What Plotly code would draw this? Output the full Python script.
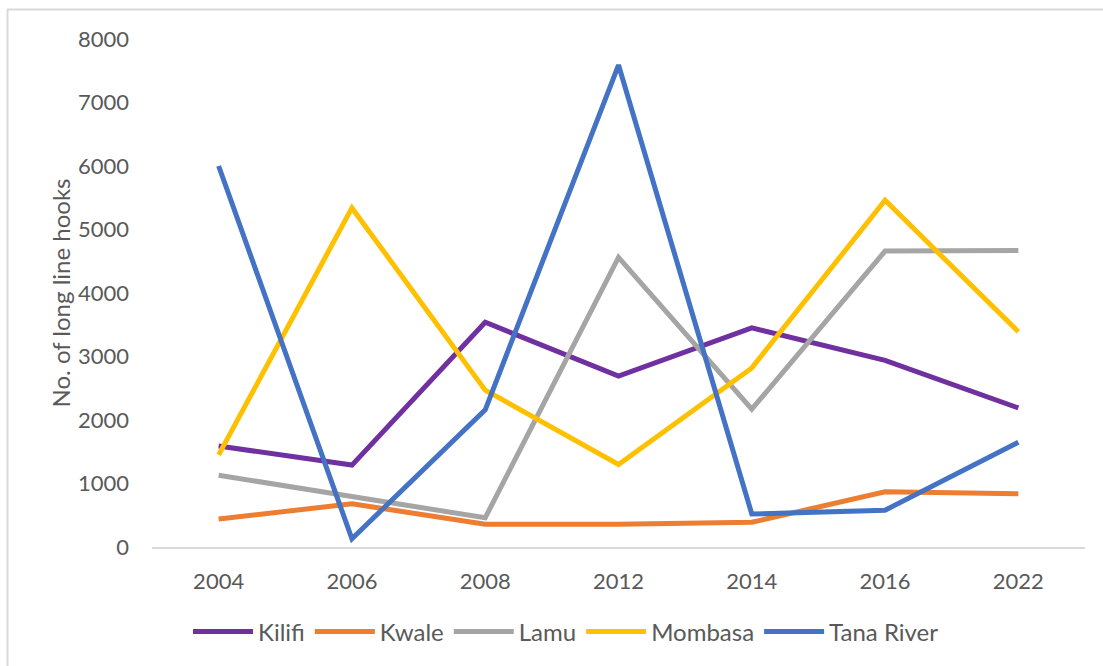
import plotly.graph_objects as go

years = ["2004", "2006", "2008", "2012", "2014", "2016", "2022"]
kilifi = [1590, 1290, 3540, 2690, 3450, 2940, 2190]
kwale = [440, 680, 360, 360, 390, 870, 840]
lamu = [1130, 800, 460, 4560, 2170, 4660, 4670]
mombasa = [1450, 5340, 2470, 1300, 2820, 5460, 3390]
tana_river = [6000, 130, 2160, 7590, 520, 580, 1650]

series = [
    ("Kilifi", kilifi, "#7030A0"),
    ("Kwale", kwale, "#ED7D31"),
    ("Lamu", lamu, "#A5A5A5"),
    ("Mombasa", mombasa, "#FFC000"),
    ("Tana River", tana_river, "#4472C4"),
]

FONT = "Lato, 'Open Sans', sans-serif"
TXT = "#595959"

fig = go.Figure()
for name, vals, col in series:
    fig.add_trace(go.Scatter(
        x=years, y=vals, name=name, mode="lines",
        line=dict(color=col, width=5),
    ))

W, H = 1103, 666
L, R, T, B = 152, 18, 39, 119
pw, ph = W - L - R, H - T - B

def px(xp):
    return (xp - L) / pw

def py(yp):
    return (H - B - yp) / ph

fig.update_layout(
    width=W, height=H,
    margin=dict(l=L, r=R, t=T, b=B),
    paper_bgcolor="white", plot_bgcolor="white",
    font=dict(family=FONT, color=TXT, size=21),
    showlegend=True,
    legend=dict(
        orientation="h", x=px(566), xanchor="center", y=py(632), yanchor="middle",
        font=dict(size=24, color=TXT, family=FONT), itemwidth=60,
        tracegroupgap=0, bgcolor="rgba(0,0,0,0)",
    ),
    xaxis=dict(
        type="category", range=[-0.5, 6.5], showgrid=False, showline=True, linecolor="#D9D9D9",
        linewidth=2, ticks="", tickfont=dict(size=22, color=TXT),
        ticklabelstandoff=14, zeroline=False,
    ),
    yaxis=dict(
        range=[0, 8000], dtick=1000, showgrid=False, showline=False,
        zeroline=False, ticks="", tickfont=dict(size=22, color=TXT),
        ticklabelstandoff=22,
        title=dict(text="No. of long line hooks", font=dict(size=24, color=TXT), standoff=0),
    ),
    shapes=[
        dict(type="line", xref="paper", yref="paper", x0=px(7), x1=px(1103), y0=py(9.5), y1=py(9.5),
             line=dict(color="#D9D9D9", width=2)),
        dict(type="line", xref="paper", yref="paper", x0=px(7.5), x1=px(7.5), y0=py(9.5), y1=py(670),
             line=dict(color="#D9D9D9", width=2)),
    ],
)

fig.write_html("out.html")
